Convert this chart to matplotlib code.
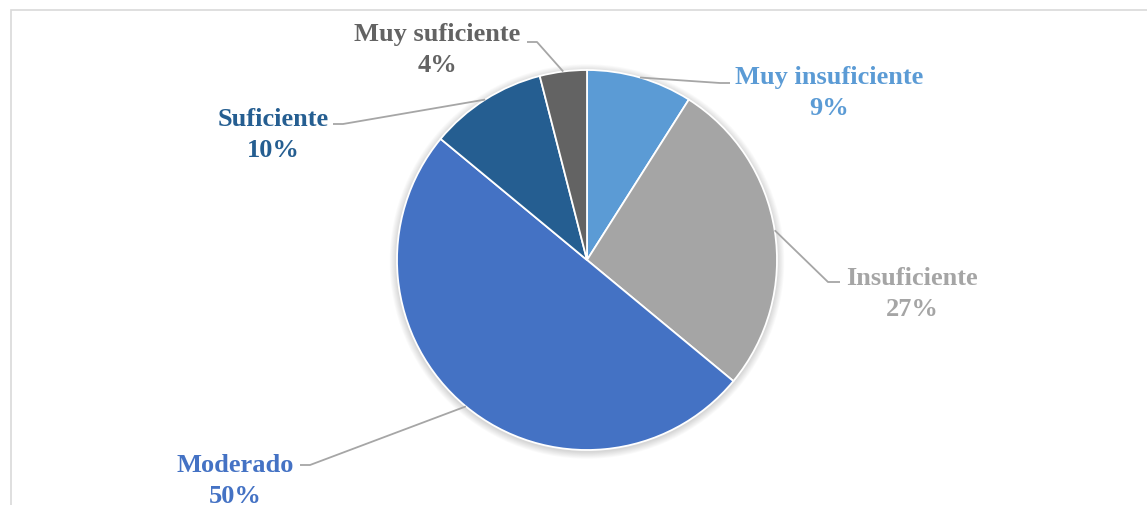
import matplotlib
matplotlib.use("Agg")
import matplotlib.pyplot as plt
from matplotlib.patches import Circle, Rectangle
import numpy as np

categories = ["Muy insuficiente", "Insuficiente", "Moderado", "Suficiente", "Muy suficiente"]
values = [9, 27, 50, 10, 4]
pct_labels = ["9%", "27%", "50%", "10%", "4%"]
colors = ["#5B9BD5", "#A5A5A5", "#4472C4", "#255E91", "#636363"]

W, H = 1147, 506
fig = plt.figure(figsize=(W / 100, H / 100), dpi=100)
ax = fig.add_axes([0, 0, 1, 1])
ax.set_xlim(0, W)
ax.set_ylim(0, H)
ax.set_aspect("auto")
ax.axis("off")

def Y(py):
    return H - py

cx, cy, R = 587, Y(261), 190

# outer frame
ax.add_patch(Rectangle((10.5, Y(600)), 1200, Y(10.5) - Y(600), fill=False,
                       edgecolor="#D9D9D9", linewidth=1.2, zorder=0))

# soft shadow
for i in range(8):
    ax.add_patch(Circle((cx, cy - 1.5), R + 1 + i * 0.9, facecolor="#000000",
                        alpha=0.018, edgecolor="none", zorder=1))

wedges, _ = ax.pie(values, colors=colors, startangle=90, counterclock=False,
                   center=(cx, cy), radius=R, frame=True,
                   wedgeprops=dict(edgecolor="white", linewidth=1.3, zorder=2))
ax.set_xlim(0, W)
ax.set_ylim(0, H)
ax.axis("off")

# label layout: text center (px), elbow point (px), horizontal end (px)
label_pos = [(829, 93), (912, 294), (235, 481), (273, 135), (437, 50)]
elbows = [(720, 84), (828, 283), (310, 466), (343, 125), (537, 43)]
ends = [(730, 84), (840, 283), (300, 466), (333, 125), (527, 43)]

font = dict(family=["Liberation Serif", "DejaVu Serif"], fontweight="bold", fontsize=19)

for w, cat, pct, col, lp, el, en in zip(wedges, categories, pct_labels, colors,
                                        label_pos, elbows, ends):
    theta = np.deg2rad((w.theta1 + w.theta2) / 2)
    sx, sy = cx + R * np.cos(theta), cy + R * np.sin(theta)
    ax.plot([sx, el[0], en[0]], [sy, Y(el[1]), Y(en[1])], color="#A6A6A6",
            linewidth=1.3, zorder=3, solid_capstyle="butt")
    ax.text(lp[0], Y(lp[1]), f"{cat}\n{pct}", color=col, ha="center", va="center",
            linespacing=1.45, zorder=4, **font)

fig.savefig("out.png", dpi=100)
